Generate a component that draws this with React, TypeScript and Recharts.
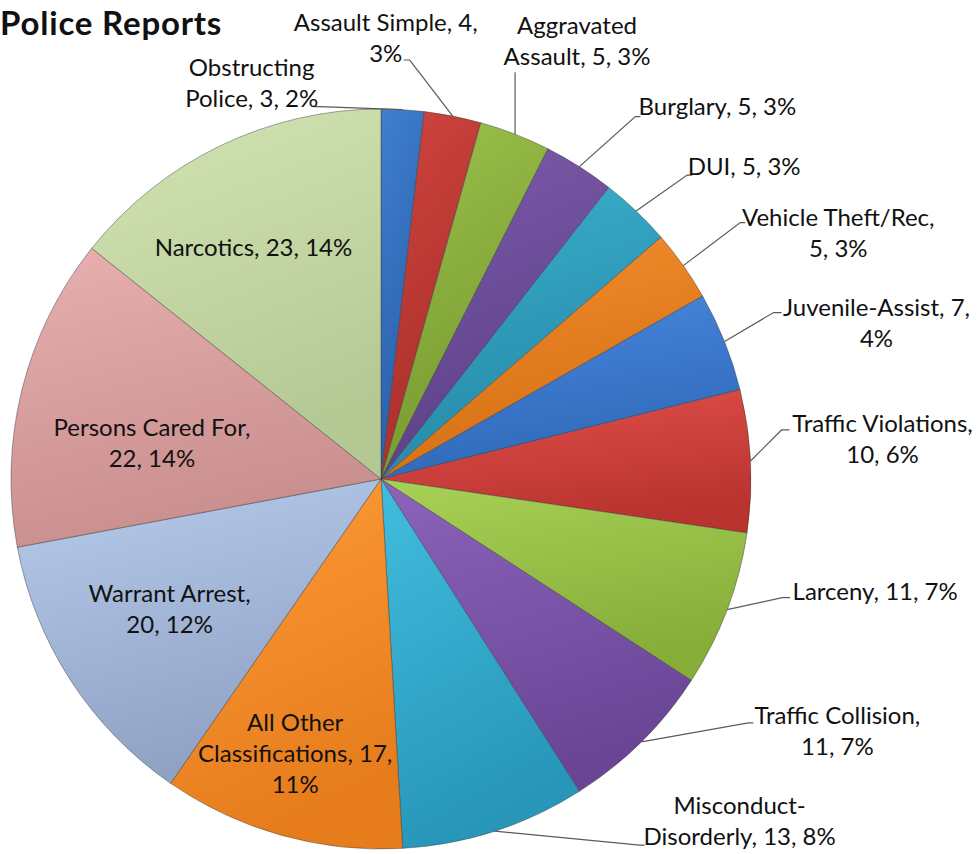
import React from "react";
import { PieChart, Pie, Cell } from "recharts";

// slices, clockwise from 12 o'clock
const categories = [
  "Obstructing Police",
  "Assault Simple",
  "Aggravated Assault",
  "Burglary",
  "DUI",
  "Vehicle Theft/Rec",
  "Juvenile-Assist",
  "Traffic Violations",
  "Larceny",
  "Traffic Collision",
  "Misconduct-Disorderly",
  "All Other Classifications",
  "Warrant Arrest",
  "Persons Cared For",
  "Narcotics",
];
const counts = [3, 4, 5, 5, 5, 5, 7, 10, 11, 11, 13, 17, 20, 22, 23];
// percentages as printed on the chart
const percents = [2, 3, 3, 3, 3, 3, 4, 6, 7, 7, 8, 11, 12, 14, 14];

const colors = [
  ["#3f7fd0", "#2a5ea8"],
  ["#d0443e", "#a82f2b"],
  ["#9cc24c", "#76992f"],
  ["#7d5cab", "#5c3f88"],
  ["#3bb0cf", "#2589a6"],
  ["#f58f2e", "#d46f14"],
  ["#4a8ae0", "#2f68b8"],
  ["#e2504b", "#b9332f"],
  ["#a9d056", "#86ad38"],
  ["#8b64bb", "#6a4596"],
  ["#42bddf", "#2796b8"],
  ["#ff9c3a", "#e67c1c"],
  ["#b7cbeb", "#8fa2c4"],
  ["#e8b0b0", "#c98e8e"],
  ["#d3e4b3", "#b4c894"],
];

// label placement: text block centre and leader end, relative to the slice's rim point
// [tx, ty, wrapChars, leaderX, leaderY, stub]
const labelLayout: (number | null)[][] = [
  [-151, -27, 14, -83, -3, -6],
  [-67, -78, 18, -43, -56, -6],
  [62, -93, 14, 0, -62, 0],
  [138, -60, 20, 56, -50, 5],
  [108, -45, 20, 51, -36, 5],
  [155, -33, 18, 57, -43, 5],
  [152, -19, 19, 49, -29, 8],
  [132, -22, 19, 31, -31, 8],
  [148, -18, 20, 55, -12, 8],
  [196, -11, 18, 107, -19, 5],
  [245, -10, 18, 145, 14, 5],
  [14, -82, 20, null, null, null],
  [99, -71, 16, null, null, null],
  [130, 53, 18, null, null, null],
  [33, 102, 20, null, null, null],
];

const data = categories.map((name, i) => ({ name, value: counts[i], pct: percents[i] }));

const FONT = "Lato, 'Open Sans', sans-serif";
const LINE = 31;

function wrap(text: string, max: number) {
  const parts = text.split(/(?<=-)| /);
  const lines: string[] = [];
  let cur = "";
  let pos = 0;
  parts.forEach((p, k) => {
    const start = text.indexOf(p, pos);
    const joiner = k === 0 ? "" : text[start - 1] === " " ? " " : "";
    pos = start + p.length;
    const next = cur + (cur ? joiner : "") + p;
    if (cur && next.length > max) {
      lines.push(cur);
      cur = p;
    } else {
      cur = next;
    }
  });
  if (cur) lines.push(cur);
  return lines;
}

const renderLabel = (props: any) => {
  const { cx, cy, midAngle, outerRadius, index } = props;
  const rad = Math.PI / 180;
  const ex = cx + outerRadius * Math.cos(-midAngle * rad);
  const ey = cy + outerRadius * Math.sin(-midAngle * rad);
  const [tx, ty, w, lx, ly, stub] = labelLayout[index];
  const d = data[index];
  const lines = wrap(`${d.name}, ${d.value}, ${d.pct}%`, w as number);
  const bx = ex + (tx as number);
  const by = ey + (ty as number);
  const first = by - ((lines.length - 1) * LINE) / 2;
  return (
    <g key={`lbl-${index}`}>
      {lx !== null && (
        <polyline
          points={`${ex},${ey} ${ex + (lx as number)},${ey + (ly as number)} ${ex + (lx as number) + (stub as number)},${ey + (ly as number)}`}
          fill="none"
          stroke="#5a5a5a"
          strokeWidth={1.2}
        />
      )}
      <text textAnchor="middle" fontFamily={FONT} fontSize={24} fill="#111">
        {lines.map((t, k) => (
          <tspan key={k} x={bx} y={first + k * LINE + 8.5}>
            {t}
          </tspan>
        ))}
      </text>
    </g>
  );
};

export default function App() {
  return (
    <div style={{ position: "absolute", left: 0, top: 0, width: 979, height: 854, background: "#fff", overflow: "hidden" }}>
      <svg width={0} height={0} style={{ position: "absolute" }}>
        <defs>
          {colors.map((c, i) => (
            <linearGradient key={i} id={`g${i}`} x1="0" y1="0" x2="0.3" y2="1">
              <stop offset="0%" stopColor={c[0]} />
              <stop offset="100%" stopColor={c[1]} />
            </linearGradient>
          ))}
        </defs>
      </svg>
      <div
        style={{
          position: "absolute",
          left: 0,
          top: 2,
          fontFamily: FONT,
          fontWeight: 700,
          fontSize: 33,
          letterSpacing: 0.8,
          lineHeight: "40px",
          color: "#111",
          zIndex: 2,
        }}
      >
        Police Reports
      </div>
      <PieChart width={979} height={854} margin={{ top: 0, right: 0, bottom: 0, left: 0 }}>
        <Pie
          data={data}
          dataKey="value"
          nameKey="name"
          cx={381}
          cy={479}
          outerRadius={370}
          startAngle={90}
          endAngle={-270}
          label={renderLabel}
          labelLine={false}
          isAnimationActive={false}
          stroke="#3a3a3a"
          strokeOpacity={0.45}
          strokeWidth={1}
        >
          {data.map((d, i) => (
            <Cell key={d.name} fill={`url(#g${i})`} />
          ))}
        </Pie>
      </PieChart>
    </div>
  );
}
